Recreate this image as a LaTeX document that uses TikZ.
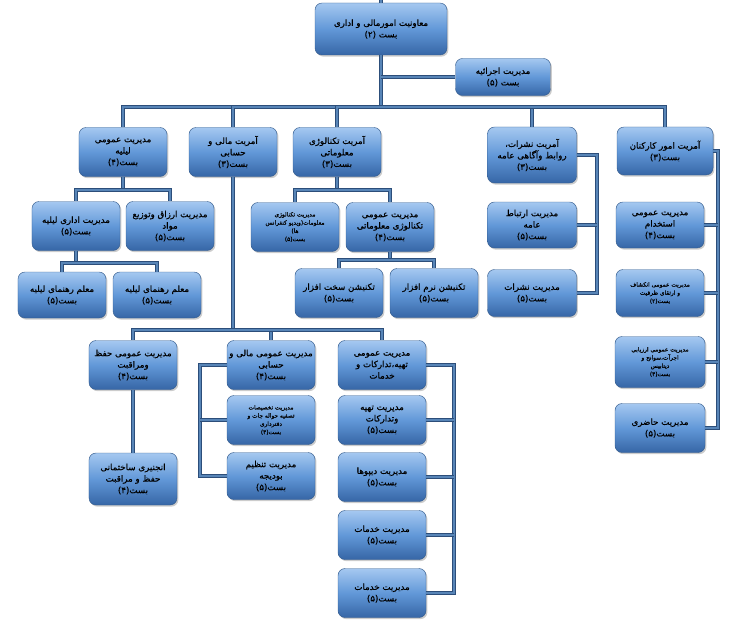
\documentclass[tikz,border=0pt]{standalone}
\usepackage{fontspec}
\newfontfamily\arabicfont[Script=Arabic, FakeBold=0.6]{DejaVu Sans}
\TeXXeTstate=1
\usetikzlibrary{shadows}
\newcommand\fatext[1]{\beginR#1\endR}
\definecolor{boxtop}{RGB}{165,200,240}
\definecolor{boxmid}{RGB}{98,152,216}
\definecolor{boxbot}{RGB}{54,102,166}
\definecolor{boxline}{RGB}{52,92,142}
\definecolor{linkout}{RGB}{44,78,122}
\definecolor{linkin}{RGB}{88,133,183}

\begin{document}
\begin{tikzpicture}[x=0.03cm,y=-0.03cm,
	box/.style={rounded corners=6pt, draw=boxline, top color=boxtop, bottom color=boxbot, middle color=boxmid,
		drop shadow={opacity=.4, shadow xshift=1.2pt, shadow yshift=-1.4pt},
		align=center, inner sep=1pt, font=\arabicfont\fontsize{7.4}{9.8}\selectfont,
		minimum width=2.64cm, minimum height=1.47cm},
	tiny/.style={font=\arabicfont\fontsize{5}{7}\selectfont},
	link/.style={draw=linkout, line width=.45pt, double=linkin, double distance=1.7pt}]
	\useasboundingbox (0,0) rectangle (739,622);

	% sar
	\node[box, minimum width=3.96cm, minimum height=1.56cm] (top) at (381,29) {\fatext{معاونیت امورمالی و اداری}\\\fatext{بست (۲)}};
	\node[box, minimum width=2.85cm, minimum height=1.11cm] (exec) at (503,77) {\fatext{مدیریت اجرائیه}\\\fatext{بست (۵)}};

	% amriat ha
	\node[box] (lilie) at (123,152) {\fatext{مدیریت عمومی}\\\fatext{لیلیه}\\\fatext{بست(۴)}};
	\node[box] (mali) at (233,152) {\fatext{آمریت مالی و}\\\fatext{حسابی}\\\fatext{بست(۳)}};
	\node[box] (it) at (337,152) {\fatext{آمریت تکنالوژی}\\\fatext{معلوماتی}\\\fatext{بست(۳)}};
	\node[box, minimum width=2.67cm, minimum height=1.68cm] (nashr) at (532,155) {\fatext{آمریت نشرات،}\\\fatext{روابط وآگاهی عامه}\\\fatext{بست(۳)}};
	\node[box, minimum width=2.88cm, minimum height=1.44cm] (kark) at (665,151) {\fatext{آمریت امور کارکنان}\\\fatext{بست(۳)}};

	% lilie
	\node[box] (lidari) at (76,226) {\fatext{مدیریت اداری لیلیه}\\\fatext{بست(۵)}};
	\node[box] (lazraq) at (170,226) {\fatext{مدیریت ارزاق وتوزیع}\\\fatext{مواد}\\\fatext{بست(۵)}};
	\node[box, minimum height=1.38cm] (mualA) at (62,295) {\fatext{معلم رهنمای لیلیه}\\\fatext{بست(۵)}};
	\node[box, minimum height=1.38cm] (mualB) at (157,295) {\fatext{معلم رهنمای لیلیه}\\\fatext{بست(۵)}};

	% tecnologi
	\node[box, tiny] (ivideo) at (295,227) {\fatext{مدیریت تکنالوژی}\\\fatext{معلومات(ویدیو کنفرانس}\\\fatext{ها)}\\\fatext{بست(۵)}};
	\node[box] (iomumi) at (390,227) {\fatext{مدیریت عمومی}\\\fatext{تکنالوژی معلوماتی}\\\fatext{بست(۴)}};
	\node[box] (sakht) at (339,293) {\fatext{تکنیشن سخت افزار}\\\fatext{بست(۵)}};
	\node[box] (narm) at (434,293) {\fatext{تکنیشن نرم افزار}\\\fatext{بست(۵)}};

	% nashrat
	\node[box, minimum width=2.67cm, minimum height=1.38cm] (irtibat) at (532,225) {\fatext{مدیریت ارتباط}\\\fatext{عامه}\\\fatext{بست(۵)}};
	\node[box, minimum width=2.67cm, minimum height=1.41cm] (nashrat) at (532,293) {\fatext{مدیریت نشرات}\\\fatext{بست(۵)}};

	% karkonan
	\node[box, minimum height=1.38cm] (istikhdam) at (660,225) {\fatext{مدیریت عمومی}\\\fatext{استخدام}\\\fatext{بست(۴)}};
	\node[box, tiny, minimum height=1.41cm] (inkishaf) at (660,293) {\fatext{مدیریت عمومی انکشاف}\\\fatext{و ارتقای ظرفیت}\\\fatext{بست(۲)}};
	\node[box, tiny, minimum width=2.7cm, minimum height=1.53cm] (arzyabi) at (660,362) {\fatext{مدیریت عمومی ارزیابی}\\\fatext{اجرآت،سوانح و}\\\fatext{دیتابیس}\\\fatext{بست(۴)}};
	\node[box, minimum width=2.7cm] (hazeri) at (660,428) {\fatext{مدیریت حاضری}\\\fatext{بست(۵)}};

	% mali
	\node[box] (hifz) at (133,365) {\fatext{مدیریت عمومی حفظ}\\\fatext{ومراقبت}\\\fatext{بست(۴)}};
	\node[box, minimum height=1.56cm] (enj) at (133,479) {\fatext{انجنیری ساختمانی}\\\fatext{حفظ و مراقبت}\\\fatext{بست(۴)}};
	\node[box] (malio) at (271,365) {\fatext{مدیریت عمومی مالی و}\\\fatext{حسابی}\\\fatext{بست(۴)}};
	\node[box, tiny] (takh) at (271,420) {\fatext{مدیریت تخصیصات}\\\fatext{تصفیه حواله جات و}\\\fatext{دفترداری}\\\fatext{بست(۴)}};
	\node[box, minimum height=1.41cm] (budj) at (271,476) {\fatext{مدیریت تنظیم}\\\fatext{بودیجه}\\\fatext{بست(۵)}};
	\node[box] (tahiya) at (382,365) {\fatext{مدیریت عمومی}\\\fatext{تهیه،تدارکات و}\\\fatext{خدمات}};
	\node[box] (tadar) at (382,420) {\fatext{مدیریت تهیه}\\\fatext{وتدارکات}\\\fatext{بست(۵)}};
	\node[box] (depo) at (382,477) {\fatext{مدیریت دیپوها}\\\fatext{بست(۵)}};
	\node[box] (khidA) at (382,535) {\fatext{مدیریت خدمات}\\\fatext{بست(۵)}};
	\node[box] (khidB) at (382,593) {\fatext{مدیریت خدمات}\\\fatext{بست(۵)}};

	% khat ha
	\coordinate (stub) at (381,0);
	\coordinate (bus) at (381,107);
	\draw[link] (stub) -- (top.north);
	\draw[link] (top.south) -- (bus);
	\draw[link] (top.south |- exec.west) -- (exec.west);
	\foreach \n in {lilie,mali,it,nashr,kark}
		\draw[link] (bus) -| (\n.north);

	\coordinate (lbus) at (123,190);
	\draw[link] (lilie.south) -- (lbus);
	\foreach \n in {lidari,lazraq}
		\draw[link] (lbus) -| (\n.north);
	\coordinate (mbus) at (76,263);
	\draw[link] (lidari.south) -- (mbus);
	\foreach \n in {mualA,mualB}
		\draw[link] (mbus) -| (\n.north);

	\coordinate (ibus) at (337,190);
	\draw[link] (it.south) -- (ibus);
	\foreach \n in {ivideo,iomumi}
		\draw[link] (ibus) -| (\n.north);
	\coordinate (tbus) at (390,260);
	\draw[link] (iomumi.south) -- (tbus);
	\foreach \n in {sakht,narm}
		\draw[link] (tbus) -| (\n.north);

	\coordinate (nright) at (597,155);
	\draw[link] (nashr.east) -- (nright) |- (nashrat.east);
	\draw[link] (irtibat.east -| nright) -- (irtibat.east);

	\coordinate (kright) at (718,151);
	\draw[link] (kark.east) -- (kright) |- (hazeri.east);
	\foreach \n in {istikhdam,inkishaf,arzyabi}
		\draw[link] (\n.east -| kright) -- (\n.east);

	\coordinate (fbus) at (233,330);
	\draw[link] (mali.south) -- (fbus);
	\foreach \n in {hifz,malio,tahiya}
		\draw[link] (fbus) -| (\n.north);
	\draw[link] (hifz.south) -- (enj.north);

	\coordinate (mleft) at (200,365);
	\draw[link] (malio.west) -- (mleft) |- (budj.west);
	\draw[link] (takh.west -| mleft) -- (takh.west);

	\coordinate (tright) at (454,365);
	\draw[link] (tahiya.east) -- (tright) |- (khidB.east);
	\foreach \n in {tadar,depo,khidA}
		\draw[link] (\n.east -| tright) -- (\n.east);

\end{tikzpicture}
\end{document}
